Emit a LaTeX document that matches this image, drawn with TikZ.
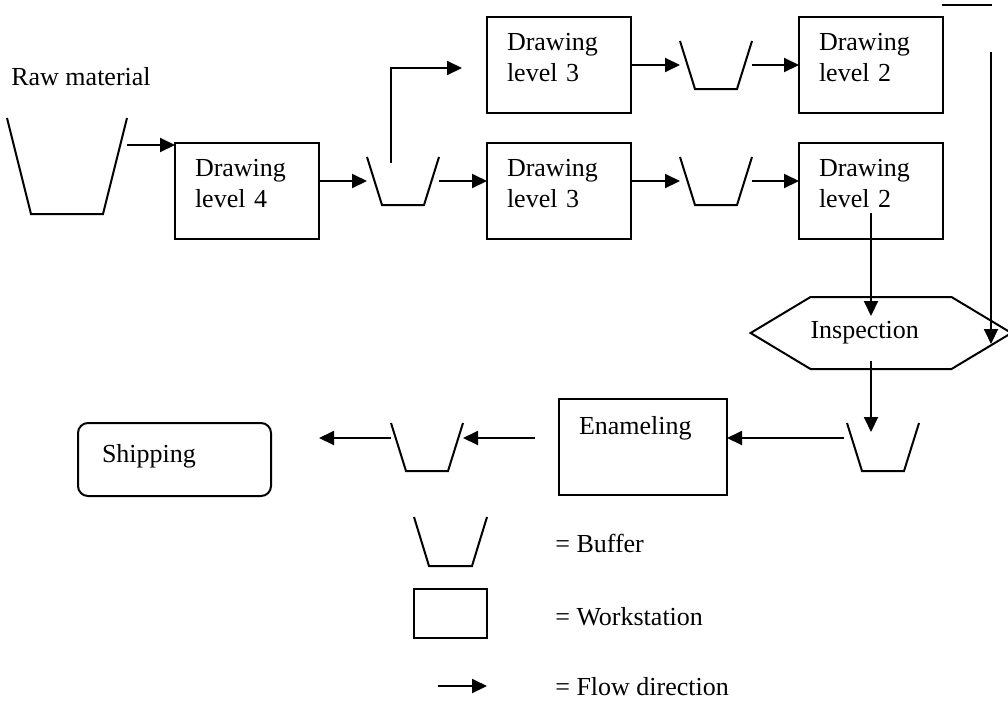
\documentclass[tikz,border=0pt]{standalone}
\usepackage{fontspec}
\setmainfont{Liberation Serif}
\usetikzlibrary{arrows.meta,shapes.symbols,positioning}
\newcommand{\drawbuf}[2]{\draw (#1.north west) -- ([xshift=#2]#1.south west) -- ([xshift=-#2]#1.south east) -- (#1.north east);}

\begin{document}
\begin{tikzpicture}
[x=1pt,y=-1pt,line width=2pt,
every node/.style={font=\fontsize{26}{31}\selectfont,outer sep=0pt},
ws/.style={draw,anchor=north west,minimum width=144pt,minimum height=96pt,
  text width=104pt,align=left,text depth=46pt,inner sep=0pt},
bufnode/.style={anchor=north west,minimum width=72pt,minimum height=48pt,inner sep=0pt},
insp/.style={draw,signal,signal to=east and west,signal pointer angle=62,
  minimum width=255pt,minimum height=72pt,text width=141pt,align=left,inner sep=0pt},
ship/.style={draw,rounded corners=10pt,anchor=north west,minimum width=193pt,minimum height=73pt,
  text width=145pt,align=left,text height=18pt,text depth=12pt,inner sep=0pt},
flow/.style={-{Triangle[length=15pt,width=14pt]}}]
\useasboundingbox (0,0) rectangle (1008,702);
%%
% raw material and level 4
%%
\node[anchor=base west] (rawtxt) at (8,85) {Raw material};
\node[bufnode,minimum width=120pt,minimum height=96pt] (rawbuf) at (7,118) {};
\node[ws] (d4) at (175,143) {Drawing\\level 4};
\node[bufnode] (b1) at (367,157) {};
%%
% level 3 and level 2
%%
\node[ws] (d3a) at (487,17) {Drawing\\level 3};
\node[ws] (d3b) at (487,143) {Drawing\\level 3};
\node[bufnode] (b2) at (680,41) {};
\node[bufnode] (b3) at (680,157) {};
\node[ws] (d2a) at (799,17) {Drawing\\level 2};
\node[ws] (d2b) at (799,143) {Drawing\\level 2};
%%
% inspection, enameling, shipping
%%
\node[insp] (insp) at (881,333) {Inspection};
\node[bufnode] (b4) at (847,423) {};
\node[ws,minimum width=168pt,text width=128pt,text depth=43pt] (enam) at (559,399) {Enameling};
\node[bufnode] (b5) at (391,423) {};
\node[ship] (ship) at (78,423) {Shipping};
%%
% legend
%%
\node[bufnode,minimum width=73pt,minimum height=49pt] (lbuf) at (414,517) {};
\node[draw,anchor=north west,minimum width=73pt,minimum height=49pt] (lws) at (414,589) {};
\coordinate (lflow) at (438,686);
\node[anchor=base west] (tbuf) at (552,552) {= Buffer};
\node[anchor=base west] (tws) at (552,625) {= Workstation};
\node[anchor=base west] (tflow) at (552,695) {= Flow direction};
%%
% buffers
%%
\drawbuf{rawbuf}{24pt}
\foreach \b in {b1,b2,b3,b4,b5,lbuf} {\drawbuf{\b}{15pt}}
%%
% flow
%%
\draw[flow] ([yshift=-27pt]rawbuf.north east) coordinate (r1) -- (r1 -| d4.west);
\draw[flow] (b1.west -| d4.east) -- (b1.west);
\draw[flow] (b1.east) -- (b1.east -| d3b.west);
\draw[flow] ([xshift=-12pt,yshift=-6pt]b1.north) |- ([xshift=-25pt,yshift=-3pt]d3a.west);
\draw[flow] (d3a.east |- b2.west) -- (b2.west);
\draw[flow] (b2.east) -- (b2.east -| d2a.west);
\draw[flow] (d3b.east |- b3.west) -- (b3.west);
\draw[flow] (b3.east) -- (b3.east -| d2b.west);
\draw[flow] ([yshift=26pt]d2b.south) -- ++(0,103);
\draw[flow] (insp.south -| d2b.south) ++(0,-8) -- ++(0,71);
\draw[flow] ([xshift=-3pt,yshift=-15pt]b4.north west) coordinate (e1) -- (e1 -| enam.east);
\draw[flow] (e1 -| enam.west) ++(-24,0) -- (e1 -| b5.east);
\draw[flow] (e1 -| b5.west) -- ++(-72,0);
%%
% return line, top right
%%
\coordinate (ta) at (942,5);
\coordinate (tb) at (992,5);
\coordinate (rt) at (991,52);
\draw (ta) -- (tb);
\draw[flow] (rt) -- ++(0,292);
%%
\draw[flow] (lflow) -- ++(49,0);
\end{tikzpicture}
\end{document}
